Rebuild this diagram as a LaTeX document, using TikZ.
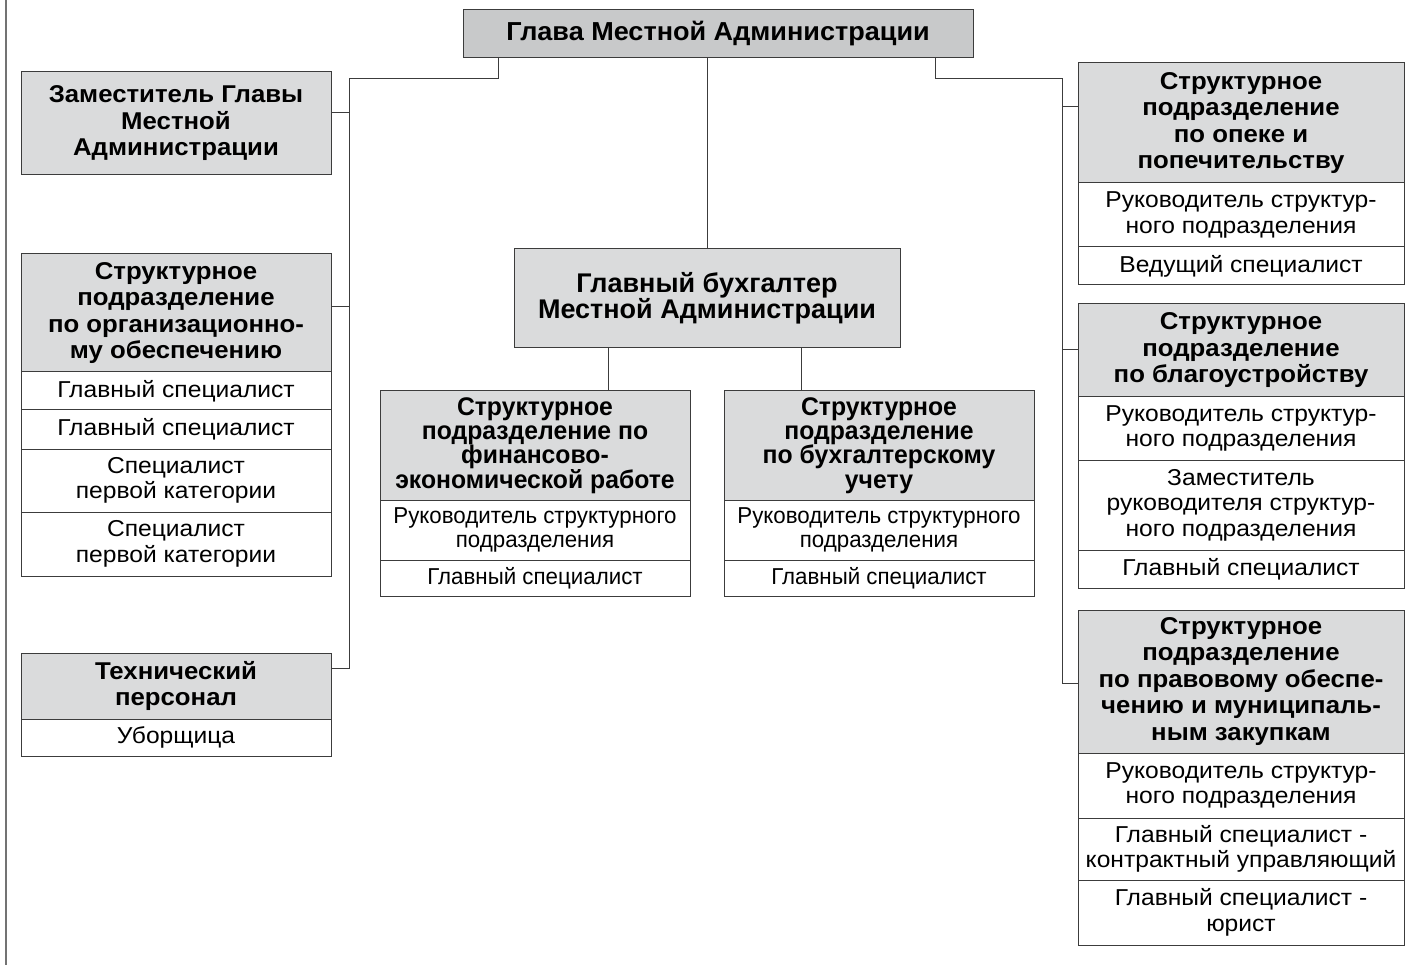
\documentclass[tikz,border=0pt]{standalone}
\usepackage{fontspec}
\setmainfont{Liberation Sans}
\newfontfamily\wideface[FakeStretch=1.06]{Liberation Sans}
\newfontfamily\itemface[FakeStretch=1.07]{Liberation Sans}
\newfontfamily\topface[FakeStretch=1.04]{Liberation Sans}
\newfontfamily\midface{Liberation Sans}
\newfontfamily\subface[FakeStretch=0.97]{Liberation Sans}
\usetikzlibrary{positioning}

\definecolor{topgray}{RGB}{200,201,202}
\definecolor{headgray}{RGB}{218,219,220}
\definecolor{edgegray}{RGB}{60,60,60}

\tikzset{
	box/.style={draw=edgegray, line width=1pt, align=center, inner sep=0pt, outer sep=0pt},
	head/.style={box, fill=headgray, font=\wideface\fontsize{24.3}{26.5}\selectfont\bfseries},
	tophead/.style={box, fill=topgray, font=\topface\fontsize{26}{28}\selectfont\bfseries},
	midhead/.style={box, fill=headgray, font=\midface\fontsize{27}{26.5}\selectfont\bfseries},
	subhead/.style={box, fill=headgray, font=\subface\fontsize{25.5}{24.3}\selectfont\bfseries},
	item/.style={box, fill=white, font=\itemface\fontsize{23}{25.5}\selectfont},
	subitem/.style={box, fill=white, font=\subface\fontsize{23}{23.5}\selectfont},
	conn/.style={draw=edgegray, line width=1pt},
}

\begin{document}
\begin{tikzpicture}[x=1pt, y=-1pt]
	\useasboundingbox (0,0) rectangle (1411,965);
	\draw[line width=2pt, black!55] (6,0) -- (6,965);

	% top
	\node[tophead, anchor=north west, minimum width=510, minimum height=48] (glava) at (463,10) {Глава Местной Администрации};

	% left column
	\node[head, anchor=north west, minimum width=310, minimum height=103] (dep) at (21,72) {Заместитель Главы\\Местной\\Администрации};

	\node[head, anchor=north west, minimum width=310, minimum height=118] (org) at (21,254) {Структурное\\подразделение\\по организационно-\\му обеспечению};
	\node[item, minimum width=310, minimum height=38, below=0pt of org] (org1) {Главный специалист};
	\node[item, minimum width=310, minimum height=39, below=0pt of org1] (org2) {Главный специалист};
	\node[item, minimum width=310, minimum height=63, below=0pt of org2] (org3) {Специалист\\первой категории};
	\node[item, minimum width=310, minimum height=64, below=0pt of org3] (org4) {Специалист\\первой категории};

	\node[head, anchor=north west, minimum width=310, minimum height=66] (tech) at (21,653) {Технический\\персонал};
	\node[item, minimum width=310, minimum height=37, below=0pt of tech] (tech1) {Уборщица};

	% centre
	\node[midhead, anchor=north west, minimum width=386, minimum height=99] (buh) at (514,249) {Главный бухгалтер\\Местной Администрации};

	\node[subhead, anchor=north west, minimum width=310, minimum height=109] (fin) at (380,391) {Структурное\\подразделение по\\финансово-\\экономической работе};
	\node[subitem, minimum width=310, minimum height=60, below=0pt of fin] (fin1) {Руководитель структурного\\подразделения};
	\node[subitem, minimum width=310, minimum height=36, below=0pt of fin1] (fin2) {Главный специалист};

	\node[subhead, anchor=north west, minimum width=310, minimum height=109] (acc) at (724,391) {Структурное\\подразделение\\по бухгалтерскому\\учету};
	\node[subitem, minimum width=310, minimum height=60, below=0pt of acc] (acc1) {Руководитель структурного\\подразделения};
	\node[subitem, minimum width=310, minimum height=36, below=0pt of acc1] (acc2) {Главный специалист};

	% right column
	\node[head, anchor=north west, minimum width=326, minimum height=120] (opeka) at (1078,63) {Структурное\\подразделение\\по опеке и\\попечительству};
	\node[item, minimum width=326, minimum height=64, below=0pt of opeka] (opeka1) {Руководитель структур-\\ного подразделения};
	\node[item, minimum width=326, minimum height=38, below=0pt of opeka1] (opeka2) {Ведущий специалист};

	\node[head, anchor=north west, minimum width=326, minimum height=93] (blag) at (1078,304) {Структурное\\подразделение\\по благоустройству};
	\node[item, minimum width=326, minimum height=63, below=0pt of blag] (blag1) {Руководитель структур-\\ного подразделения};
	\node[item, minimum width=326, minimum height=90, below=0pt of blag1] (blag2) {Заместитель\\руководителя структур-\\ного подразделения};
	\node[item, minimum width=326, minimum height=38, below=0pt of blag2] (blag3) {Главный специалист};

	\node[head, anchor=north west, minimum width=326, minimum height=143] (prav) at (1078,610) {Структурное\\подразделение\\по правовому обеспе-\\чению и муниципаль-\\ным закупкам};
	\node[item, minimum width=326, minimum height=65, below=0pt of prav] (prav1) {Руководитель структур-\\ного подразделения};
	\node[item, minimum width=326, minimum height=62, below=0pt of prav1] (prav2) {Главный специалист -\\контрактный управляющий};
	\node[item, minimum width=326, minimum height=65, below=0pt of prav2] (prav3) {Главный специалист -\\юрист};

	% buses
	\coordinate (lstub) at (498,79);
	\coordinate (lbus) at (349,79);
	\coordinate (ldep) at (349,113);
	\coordinate (lorg) at (349,307);
	\coordinate (ltech) at (349,668);
	\coordinate (rstub) at (935,79);
	\coordinate (rbus) at (1062,79);
	\coordinate (ropeka) at (1062,107);
	\coordinate (rblag) at (1062,350);
	\coordinate (rprav) at (1062,683);

	\draw[conn] (glava.south -| lstub) -- (lstub) -- (lbus) -- (ltech) -- (ltech -| tech.east);
	\draw[conn] (ldep) -- (ldep -| dep.east);
	\draw[conn] (lorg) -- (lorg -| org.east);

	\draw[conn] (glava.south -| rstub) -- (rstub) -- (rbus) -- (rprav) -- (rprav -| prav.west);
	\draw[conn] (ropeka) -- (ropeka -| opeka.west);
	\draw[conn] (rblag) -- (rblag -| blag.west);

	\draw[conn] (buh.north) -- (buh.north |- glava.south);
	\draw[conn] (buh.south -| 608,0) -- (fin.north -| 608,0);
	\draw[conn] (buh.south -| 801,0) -- (acc.north -| 801,0);
\end{tikzpicture}
\end{document}
